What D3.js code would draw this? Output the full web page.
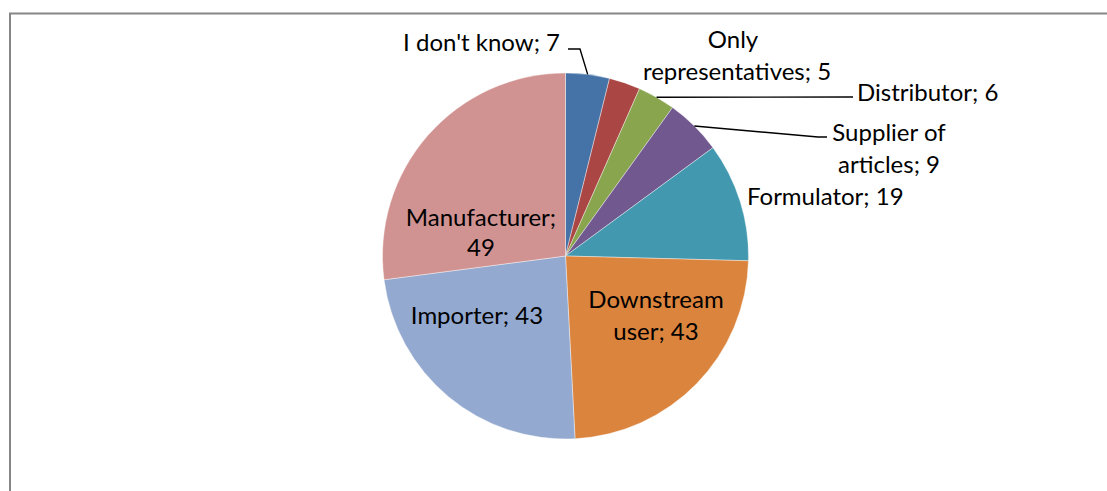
<!DOCTYPE html>
<html><head><meta charset="utf-8">
<script src="https://cdn.jsdelivr.net/npm/d3@7"></script>
<style>body{margin:0;background:#fff}svg{display:block}text{font-family:Lato,"Open Sans",sans-serif;fill:#000}</style>
</head><body><svg id="c" width="1107" height="491"></svg>
<script>
const categories = ["I don't know","Only representatives","Distributor","Supplier of articles","Formulator","Downstream user","Importer","Manufacturer"];
const values = [7,5,6,9,19,43,43,49];
const colors = ["#4572A7","#AA4643","#89A54E","#71588F","#4198AF","#DB843D","#93A9CF","#D19392"];

const svg = d3.select("#c");
const W=1107,H=491, cx=565.5, cy=256, R=183;
// frame
svg.append("path").attr("d",`M10,${H} V13.5 H${W}`).attr("fill","none").attr("stroke","#868686").attr("stroke-width",2);

const data = categories.map((c,i)=>({cat:c,val:values[i],col:colors[i]}));
const pie = d3.pie().value(d=>d.val).sort(null);
const arc = d3.arc().innerRadius(0).outerRadius(R);
const arcs = pie(data);
const g = svg.append("g").attr("transform",`translate(${cx},${cy})`);
g.selectAll("path").data(arcs).join("path").attr("d",arc).attr("fill",d=>d.data.col).attr("stroke","#fff").attr("stroke-width",0.4);

function outer(d){const a=(d.startAngle+d.endAngle)/2;return [cx+R*Math.sin(a), cy-R*Math.cos(a)];}
const lab = svg.append("g").style("font-size","24px");
function txt(x,y,s,anchor){lab.append("text").attr("x",x).attr("y",y).attr("text-anchor",anchor||"middle").attr("dominant-baseline","central").text(s);}
function leader(d,pts){const p=outer(d);const all=[p,...pts];svg.append("path").attr("d",d3.line()(all)).attr("fill","none").attr("stroke","#000").attr("stroke-width",1.4);}
const A = arcs;
// I don't know
txt(560,41,`${A[0].data.cat}; ${A[0].data.val}`,"end");
leader(A[0],[[580,49],[568,49]]);
// Only representatives
txt(733,38,"Only");
txt(737,70,`representatives; ${A[1].data.val}`);
// Distributor
txt(857,91,`${A[2].data.cat}; ${A[2].data.val}`,"start");
leader(A[2],[[853,97]]);
// Supplier of articles
txt(889,131,"Supplier of");
txt(889,163,`articles; ${A[3].data.val}`);
leader(A[3],[[818,137],[827,137]]);
// Formulator
txt(747,195,`${A[4].data.cat}; ${A[4].data.val}`,"start");
// Downstream user
txt(656,298,"Downstream");
txt(656,330,`user; ${A[5].data.val}`);
// Importer
txt(477,314,`${A[6].data.cat}; ${A[6].data.val}`);
// Manufacturer
txt(481,216,`${A[7].data.cat};`);
txt(481,246,`${A[7].data.val}`);
</script></body></html>
